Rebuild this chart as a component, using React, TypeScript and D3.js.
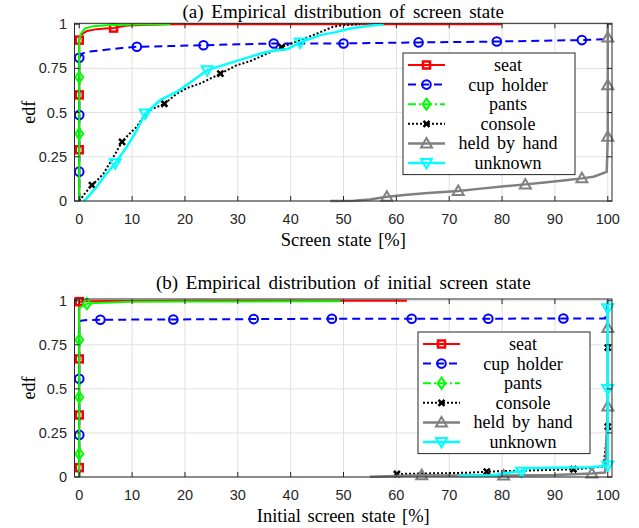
import React from 'react';
import * as d3 from 'd3';

// ---- data (x in %, y = edf) ----
const seriesNames = ['seat', 'cup holder', 'pants', 'console', 'held by hand', 'unknown'];
const xTicks = [0, 10, 20, 30, 40, 50, 60, 70, 80, 90, 100];
const yTicks = [0, 0.25, 0.5, 0.75, 1];
const yTickLabels = ['0', '0.25', '0.5', '0.75', '1'];

// (a) screen state
const seatAX = [0, 0, 0, 0, 0.3, 1.5, 3.3, 5, 6.5, 9, 12, 17, 80];
const seatAY = [0, 0.29, 0.6, 0.91, 0.94, 0.962, 0.972, 0.976, 0.978, 0.993, 0.995, 1, 1];
const seatAM = [1, 2, 3, 8];

const cupAX = [0, 0, 0, 0, 0.6, 2, 5, 8, 10.9, 17, 23.5, 30, 36.8, 43, 50, 57, 64.2, 71, 79, 87, 95.1, 99.3, 100, 100];
const cupAY = [0, 0.166, 0.486, 0.81, 0.835, 0.845, 0.855, 0.865, 0.872, 0.876, 0.881, 0.886, 0.891, 0.891, 0.891, 0.894, 0.897, 0.899, 0.902, 0.906, 0.91, 0.915, 0.915, 1];
const cupAM = [1, 2, 3, 8, 10, 12, 14, 16, 18, 20];

const pantsAX = [0, 0, 0, 0, 0.3, 1.1, 2.7, 5.9, 10, 17.2];
const pantsAY = [0, 0.38, 0.7, 0.91, 0.945, 0.976, 0.989, 0.996, 0.998, 1];
const pantsAM = [1, 2];

const consoleAX = [0, 1, 2.4, 3.5, 4.6, 6.5, 8.1, 9.5, 10.9, 12, 13.4, 16.1, 18.5, 20.5, 22.9, 26.7, 29.8, 32.3, 34.9, 38.3, 41.8, 45, 48, 49.7, 53.1];
const consoleAY = [0, 0.04, 0.09, 0.12, 0.156, 0.25, 0.335, 0.38, 0.42, 0.47, 0.514, 0.55, 0.608, 0.64, 0.665, 0.72, 0.768, 0.79, 0.825, 0.87, 0.91, 0.947, 0.985, 0.994, 1];
const consoleAM = [2, 6, 11, 15, 19];

const handAX = [47.5, 52, 55, 58.2, 62, 66, 71.7, 76, 80, 84.4, 88, 92, 95.1, 97.3, 99.8, 100, 100, 100, 100];
const handAY = [0, 0.002, 0.008, 0.024, 0.035, 0.045, 0.056, 0.07, 0.082, 0.094, 0.105, 0.117, 0.128, 0.137, 0.165, 0.363, 0.655, 0.925, 1];
const handAM = [3, 6, 9, 12, 15, 16, 17];

const unknownAX = [0.8, 1.1, 3.3, 5, 6.8, 9, 10.9, 12.5, 15.3, 18.5, 21, 24.2, 29.2, 32.3, 35, 37.4, 39.5, 41.8, 45.6, 48.5, 51.3, 54.5, 57.6];
const unknownAY = [0, 0.005, 0.08, 0.15, 0.213, 0.307, 0.4, 0.495, 0.57, 0.618, 0.67, 0.74, 0.787, 0.815, 0.84, 0.853, 0.86, 0.897, 0.938, 0.955, 0.976, 0.99, 1];
const unknownAM = [4, 7, 11, 17];

// (b) initial screen state
const seatBX = [0, 0, 0, 0, 0, 1, 5, 10, 20, 62];
const seatBY = [0, 0.053, 0.352, 0.67, 0.995, 0.997, 0.998, 0.999, 1, 1];
const seatBM = [1, 2, 3, 4];

const cupBX = [0, 0, 0, 0, 1, 4, 10, 17.8, 25, 33, 40, 47.8, 55, 62.9, 70, 77.4, 85, 91.6, 99.5, 100];
const cupBY = [0, 0.239, 0.557, 0.885, 0.89, 0.892, 0.893, 0.894, 0.895, 0.896, 0.897, 0.898, 0.898, 0.898, 0.898, 0.898, 0.899, 0.899, 0.9, 1];
const cupBM = [1, 2, 5, 7, 9, 11, 13, 15, 17];

const pantsBX = [0, 0, 0, 0, 0, 1.45, 3, 9.6, 20, 49.4];
const pantsBY = [0, 0.131, 0.453, 0.778, 0.96, 0.983, 0.988, 0.995, 0.996, 0.997];
const pantsBM = [1, 2, 3, 5];

const consoleBX = [59.5, 60.1, 65, 70, 74, 77.1, 80, 85, 90, 93.5, 96, 99.2, 100, 100, 100];
const consoleBY = [0.005, 0.017, 0.02, 0.022, 0.025, 0.03, 0.033, 0.037, 0.041, 0.044, 0.05, 0.06, 0.286, 0.734, 1];
const consoleBM = [1, 5, 9, 12, 13];

const handBX = [55, 60, 64.8, 70, 75, 80.3, 85, 90, 97, 99.5, 100, 100, 100];
const handBY = [0.002, 0.005, 0.01, 0.008, 0.008, 0.008, 0.01, 0.012, 0.02, 0.025, 0.4, 0.845, 1];
const handBM = [2, 5, 8, 10, 11];

const unknownBX = [71.7, 78, 80.3, 82.5, 83.7, 84.5, 90, 96.7, 100, 100, 100, 100];
const unknownBY = [0.006, 0.008, 0.02, 0.03, 0.03, 0.05, 0.052, 0.055, 0.065, 0.5, 0.958, 1];
const unknownBM = [4, 8, 9, 10];

type Style = { color: string; width: number; dash: string; legendDash: string; marker: string };

const styles: Style[] = [
  { color: '#ff0000', width: 2, dash: '', legendDash: '', marker: 'square' },
  { color: '#0000ff', width: 2, dash: '8,5', legendDash: '8,5', marker: 'circle' },
  { color: '#00ff00', width: 2, dash: '', legendDash: '8,3,2,3', marker: 'diamond' },
  { color: '#000000', width: 2, dash: '2,2', legendDash: '2,2', marker: 'cross' },
  { color: '#808080', width: 2.5, dash: '', legendDash: '', marker: 'up' },
  { color: '#00ffff', width: 2.5, dash: '', legendDash: '', marker: 'down' },
];

type Series = { xs: number[]; ys: number[]; marks: number[] };

const panelA: Series[] = [
  { xs: seatAX, ys: seatAY, marks: seatAM },
  { xs: cupAX, ys: cupAY, marks: cupAM },
  { xs: pantsAX, ys: pantsAY, marks: pantsAM },
  { xs: consoleAX, ys: consoleAY, marks: consoleAM },
  { xs: handAX, ys: handAY, marks: handAM },
  { xs: unknownAX, ys: unknownAY, marks: unknownAM },
];
const panelB: Series[] = [
  { xs: seatBX, ys: seatBY, marks: seatBM },
  { xs: cupBX, ys: cupBY, marks: cupBM },
  { xs: pantsBX, ys: pantsBY, marks: pantsBM },
  { xs: consoleBX, ys: consoleBY, marks: consoleBM },
  { xs: handBX, ys: handBY, marks: handBM },
  { xs: unknownBX, ys: unknownBY, marks: unknownBM },
];

const SANS = '"Liberation Sans", Arial, sans-serif';
const SERIF = '"Liberation Serif", "Times New Roman", serif';
const AXIS = '#262626';

function Marker({ kind, x, y, color }: { kind: string; x: number; y: number; color: string }) {
  const p = { fill: 'none', stroke: color, strokeWidth: 2 };
  if (kind === 'square') return <rect x={x - 3.5} y={y - 3.5} width={7} height={7} {...p} strokeWidth={2.5} />;
  if (kind === 'circle') return <circle cx={x} cy={y} r={4.3} {...p} />;
  if (kind === 'diamond') return <path d={`M${x},${y - 5.5}L${x + 4},${y}L${x},${y + 5.5}L${x - 4},${y}Z`} {...p} />;
  if (kind === 'cross')
    return <path d={`M${x - 3},${y - 3}L${x + 3},${y + 3}M${x - 3},${y + 3}L${x + 3},${y - 3}`} {...p} strokeWidth={2.5} />;
  if (kind === 'up') return <path d={`M${x},${y - 5.5}L${x + 5.5},${y + 4}L${x - 5.5},${y + 4}Z`} {...p} />;
  return <path d={`M${x},${y + 5.5}L${x + 5.5},${y - 4}L${x - 5.5},${y - 4}Z`} {...p} />;
}

type PanelProps = {
  series: Series[];
  top: number;
  bottom: number;
  yMax: number;
  title: string;
  titleY: number;
  xlabel: string;
  legend: { x: number; y: number };
};

function Panel({ series, top, bottom, yMax, title, titleY, xlabel, legend }: PanelProps) {
  const left = 74.5;
  const right = 612;
  const x = d3.scaleLinear().domain([-0.9, 100.8]).range([left, right]);
  const y = d3.scaleLinear().domain([0, yMax]).range([bottom, top]);

  const tickLen = 5;
  const legendW = 172;
  const rowH = 19.6;
  const legendH = rowH * seriesNames.length + 4;

  return (
    <g>
      {/* grid */}
      {xTicks.map((t) => (
        <line key={'gx' + t} x1={x(t)} x2={x(t)} y1={top} y2={bottom} stroke="#e0e0e0" strokeWidth={1} />
      ))}
      {yTicks.map((t) => (
        <line key={'gy' + t} x1={left} x2={right} y1={y(t)} y2={y(t)} stroke="#e0e0e0" strokeWidth={1} />
      ))}

      {/* series */}
      {series.map((s, i) => {
        const st = styles[i];
        const pts: [number, number][] = s.xs.map((v, j) => [x(v), y(s.ys[j])]);
        const path = d3.line()(pts) as string;
        return (
          <g key={'s' + i}>
            <path
              d={path}
              fill="none"
              stroke={st.color}
              strokeWidth={st.width}
              strokeDasharray={st.dash || undefined}
              strokeLinejoin="round"
            />
            {s.marks.map((m) => (
              <Marker key={m} kind={st.marker} x={pts[m][0]} y={pts[m][1]} color={st.color} />
            ))}
          </g>
        );
      })}

      {/* axes box & ticks */}
      <rect x={left} y={top} width={right - left} height={bottom - top} fill="none" stroke={AXIS} strokeWidth={1} />
      {xTicks.map((t) => (
        <g key={'tx' + t}>
          <line x1={x(t)} x2={x(t)} y1={bottom} y2={bottom - tickLen} stroke={AXIS} />
          <line x1={x(t)} x2={x(t)} y1={top} y2={top + tickLen} stroke={AXIS} />
          <text x={x(t)} y={bottom + 23} textAnchor="middle" fontFamily={SANS} fontSize={14.5} fill={AXIS}>
            {t}
          </text>
        </g>
      ))}
      {yTicks.map((t, i) => (
        <g key={'ty' + t}>
          <line x1={left} x2={left + tickLen} y1={y(t)} y2={y(t)} stroke={AXIS} />
          <line x1={right} x2={right - tickLen} y1={y(t)} y2={y(t)} stroke={AXIS} />
          <text x={67} y={y(t)} dy="0.35em" textAnchor="end" fontFamily={SANS} fontSize={14.5} fill={AXIS}>
            {yTickLabels[i]}
          </text>
        </g>
      ))}

      {/* labels */}
      <text
        x={(left + right) / 2}
        y={titleY}
        textAnchor="middle"
        fontFamily={SERIF}
        fontSize={19}
        wordSpacing={3}
        fill="#000"
      >
        {title}
      </text>
      <text
        x={(left + right) / 2}
        y={bottom + 45}
        textAnchor="middle"
        fontFamily={SERIF}
        fontSize={18.5}
        wordSpacing={2}
        fill="#000"
      >
        {xlabel}
      </text>
      <text
        transform={`translate(35,${(top + bottom) / 2}) rotate(-90)`}
        textAnchor="middle"
        fontFamily={SERIF}
        fontSize={18}
        fill="#000"
      >
        edf
      </text>

      {/* legend */}
      <g transform={`translate(${legend.x},${legend.y})`}>
        <rect x={0} y={0} width={legendW} height={legendH} fill="#fff" stroke={AXIS} strokeWidth={1} />
        {seriesNames.map((name, i) => {
          const st = styles[i];
          const cy = 12 + i * rowH;
          return (
            <g key={name}>
              <line
                x1={5}
                x2={42}
                y1={cy}
                y2={cy}
                stroke={st.color}
                strokeWidth={st.width}
                strokeDasharray={st.legendDash || undefined}
              />
              <Marker kind={st.marker} x={23.5} y={cy} color={st.color} />
              <text
                x={105}
                y={cy}
                dy="0.33em"
                textAnchor="middle"
                fontFamily={SERIF}
                fontSize={18}
                wordSpacing={3}
                fill="#000"
              >
                {name}
              </text>
            </g>
          );
        })}
      </g>
    </g>
  );
}

export default function App() {
  return (
    <svg width={639} height={528} style={{ position: 'absolute', left: 0, top: 0, background: '#fff' }}>
      <rect width={639} height={528} fill="#fff" />
      <Panel
        series={panelA}
        top={23.3}
        bottom={201}
        yMax={1.005}
        title="(a) Empirical distribution of screen state"
        titleY={18}
        xlabel="Screen state [%]"
        legend={{ x: 403, y: 53 }}
      />
      <Panel
        series={panelB}
        top={299}
        bottom={477}
        yMax={1.01}
        title="(b) Empirical distribution of initial screen state"
        titleY={289}
        xlabel="Initial screen state [%]"
        legend={{ x: 418, y: 332 }}
      />
    </svg>
  );
}
